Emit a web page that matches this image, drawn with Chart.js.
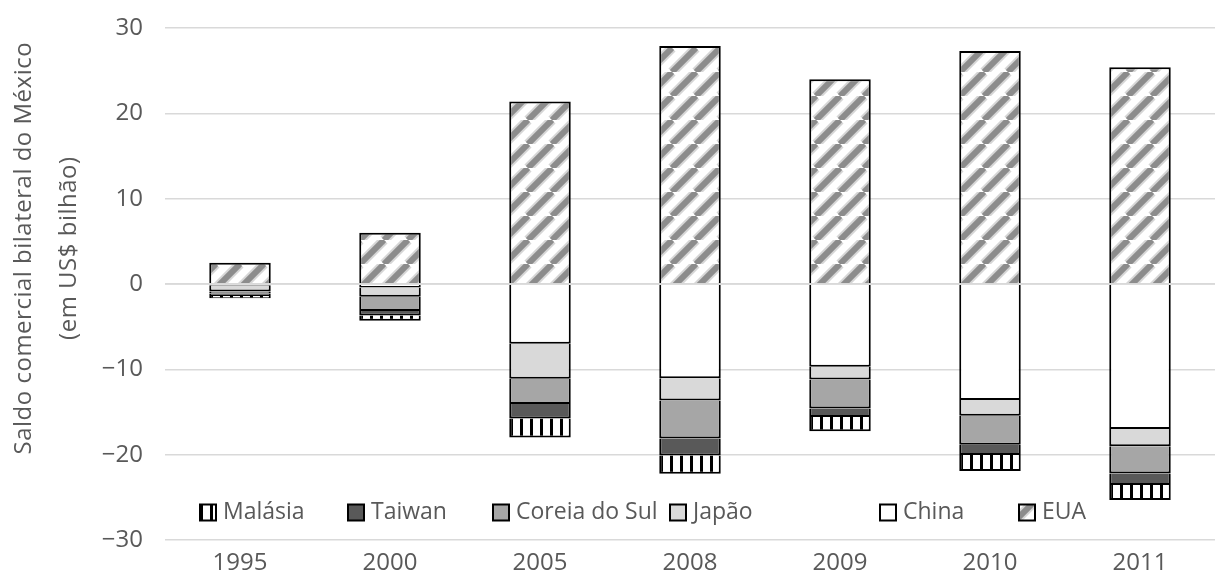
<!DOCTYPE html>
<html>
<head>
<meta charset="utf-8">
<script src="https://cdn.jsdelivr.net/npm/chart.js@4.4.1/dist/chart.umd.min.js"></script>
<style>
  html, body { margin: 0; padding: 0; background: #ffffff; }
  #wrap { width: 1215px; height: 587px; }
</style>
</head>
<body>
<div id="wrap"><canvas id="chart" width="1215" height="587"></canvas></div>
<script>
// Saldo comercial bilateral do México, em US$ bilhão
const years   = ['1995', '2000', '2005', '2008', '2009', '2010', '2011'];
const eua     = [2.5, 6.0, 21.4, 27.9, 24.0, 27.3, 25.4];
const china   = [-0.2, -0.4, -7.0, -11.05, -9.7, -13.6, -17.0];
const japao   = [-0.68, -1.1, -4.1, -2.6, -1.5, -1.85, -2.0];
const coreia  = [-0.22, -1.65, -2.95, -4.45, -3.4, -3.4, -3.2];
const taiwan  = [-0.3, -0.55, -1.7, -2.0, -1.0, -1.2, -1.35];
const malasia = [-0.28, -0.6, -2.25, -2.15, -1.65, -1.85, -1.75];

const yTitle = ['Saldo comercial bilateral do México', '(em US$ bilhão)'];

const TEXT = '#595959';
const FONT = '"Open Sans", "DejaVu Sans", sans-serif';

// hatch fills
function diagonalPattern() {
  const s = 24;
  const c = document.createElement('canvas');
  c.width = s; c.height = s;
  const g = c.getContext('2d');
  g.fillStyle = '#ffffff';
  g.fillRect(0, 0, s, s);
  const stroke = (w, col) => {
    g.strokeStyle = col; g.lineWidth = w;
    for (const k of [-s, 0, s]) {
      g.beginPath();
      g.moveTo(k, s);
      g.lineTo(k + s, 0);
      g.stroke();
    }
  };
  stroke(10, '#d6d6d6');
  stroke(6, '#8c8c8c');
  return g.createPattern(c, 'repeat');
}

function verticalPattern() {
  const c = document.createElement('canvas');
  c.width = 10; c.height = 10;
  const g = c.getContext('2d');
  g.fillStyle = '#ffffff';
  g.fillRect(0, 0, 10, 10);
  g.fillStyle = '#000000';
  g.fillRect(0, 0, 3, 10);
  return g.createPattern(c, 'repeat');
}

const common = { borderColor: '#000000', borderWidth: 2, borderSkipped: 'start', stack: 's' };

// stacking order runs outward from zero: EUA up, China → Malásia down
const datasets = [
  { label: 'EUA',           data: eua,     backgroundColor: diagonalPattern(), ...common },
  { label: 'China',         data: china,   backgroundColor: '#ffffff', ...common },
  { label: 'Japão',         data: japao,   backgroundColor: '#d9d9d9', ...common },
  { label: 'Coreia do Sul', data: coreia,  backgroundColor: '#a6a6a6', ...common },
  { label: 'Taiwan',        data: taiwan,  backgroundColor: '#595959', ...common },
  { label: 'Malásia',       data: malasia, backgroundColor: verticalPattern(), ...common }
];

// zero axis line drawn over the bars
const zeroLine = {
  id: 'zeroLine',
  afterDatasetsDraw(chart) {
    const { ctx, chartArea, scales } = chart;
    const y = scales.y.getPixelForValue(0);
    ctx.save();
    ctx.strokeStyle = '#d9d9d9';
    ctx.lineWidth = 1.5;
    ctx.beginPath();
    ctx.moveTo(chartArea.left, y);
    ctx.lineTo(chartArea.right, y);
    ctx.stroke();
    ctx.restore();
  }
};

// legend row inside the plot, near its bottom edge (offsets from the plot's left side)
const legendOffsets = [35, 183, 328, 505, 715, 854];
const innerLegend = {
  id: 'innerLegend',
  afterDatasetsDraw(chart) {
    const { ctx, chartArea } = chart;
    const items = chart.data.datasets.slice().reverse();
    const box = 16, gapText = 7;
    const cy = chartArea.bottom - 27.5;
    ctx.save();
    ctx.font = '23px ' + FONT;
    ctx.textBaseline = 'middle';
    ctx.textAlign = 'left';
    items.forEach((d, i) => {
      const x = chartArea.left + legendOffsets[i];
      ctx.fillStyle = d.backgroundColor;
      ctx.fillRect(x, cy - box / 2, box, box);
      ctx.strokeStyle = '#000000';
      ctx.lineWidth = 2;
      ctx.strokeRect(x, cy - box / 2, box, box);
      ctx.fillStyle = TEXT;
      ctx.fillText(d.label, x + box + gapText, cy);
    });
    ctx.restore();
  }
};

// two-line rotated title for the value axis
const valueAxisTitle = {
  id: 'valueAxisTitle',
  afterDraw(chart) {
    const { ctx, chartArea } = chart;
    const cy = chartArea.top + (chartArea.bottom - chartArea.top) * 0.43;
    const xs = [24, 69];
    ctx.save();
    ctx.font = '24px ' + FONT;
    if ('letterSpacing' in ctx) ctx.letterSpacing = '0.5px';
    ctx.fillStyle = TEXT;
    ctx.textAlign = 'center';
    ctx.textBaseline = 'middle';
    yTitle.forEach((line, i) => {
      ctx.save();
      ctx.translate(xs[i], cy);
      ctx.rotate(-Math.PI / 2);
      ctx.fillText(line, 0, 0);
      ctx.restore();
    });
    ctx.restore();
  }
};

new Chart(document.getElementById('chart'), {
  type: 'bar',
  data: { labels: years, datasets },
  plugins: [zeroLine, innerLegend, valueAxisTitle],
  options: {
    responsive: false,
    animation: false,
    layout: { padding: { top: 28, right: 0, bottom: 0, left: 0 } },
    plugins: { legend: { display: false }, tooltip: { enabled: false } },
    datasets: { bar: { categoryPercentage: 1, barPercentage: 0.41 } },
    scales: {
      x: {
        stacked: true,
        afterFit(scale) { scale.height = 47; },
        grid: { display: false, drawTicks: false },
        border: { display: false },
        ticks: { color: TEXT, font: { family: FONT, size: 24 }, padding: 9 }
      },
      y: {
        stacked: true,
        min: -30, max: 30,
        afterFit(scale) { scale.width = 165; },
        grid: { color: '#d9d9d9', lineWidth: 1.5, drawTicks: false },
        border: { display: false },
        ticks: {
          stepSize: 10, color: TEXT, padding: 22,
          font: { family: FONT, size: 24, lineHeight: 0.5 },
          callback: (v) => (v < 0 ? '\u2212' + Math.abs(v) : String(v))
        }
      }
    }
  }
});
</script>
</body>
</html>
